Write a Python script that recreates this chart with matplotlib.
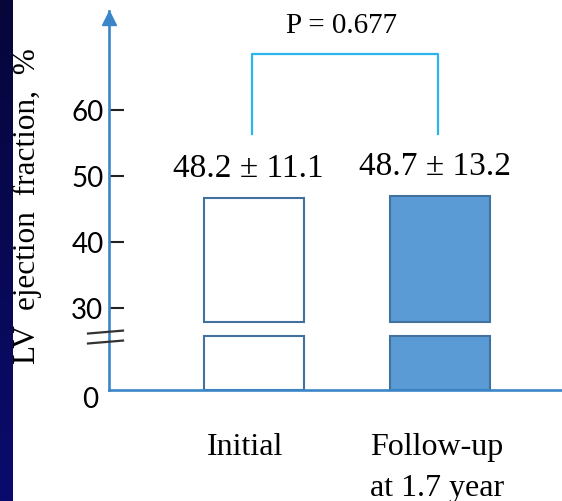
import numpy as np
import matplotlib
matplotlib.use("Agg")
import matplotlib.pyplot as plt
from matplotlib import transforms

# data
groups = ['Initial', 'Follow-up\nat 1.7 year']
bar_tops = [46.6, 46.9]
means = [48.2, 48.7]
sds = [11.1, 13.2]
p_value = 0.677
ytick_vals = [0, 30, 40, 50, 60]

# broken axis: below BRK the scale is squeezed, above it is linear
ZERO_V = 17.64
BRK = 27.9
SLOPE = (BRK - ZERO_V) / BRK
LOW_TOP = 21.9  # top of the stub under the break


def forward(v):
    v = np.asarray(v, dtype=float)
    return np.where(v < BRK, ZERO_V + v * SLOPE, v)


def inverse(y):
    y = np.asarray(y, dtype=float)
    return np.where(y < BRK, (y - ZERO_V) / SLOPE, y)


serif = 'Liberation Serif'
axis_blue = '#3a86c8'
bar_edge = '#41719c'
bar_fill = ['white', '#5b9bd5']
bracket_col = '#2cb5ea'

fig = plt.figure(figsize=(5.62, 5.02), dpi=100)

# dark slide border on the left
bax = fig.add_axes([0, 0, 13 / 562, 1])
grad = np.linspace(0, 1, 256).reshape(-1, 1)
cmap = matplotlib.colors.LinearSegmentedColormap.from_list('edge', ['#06063a', '#0b0b6e'])
bax.imshow(grad, aspect='auto', cmap=cmap, extent=[0, 1, 0, 1], origin='upper')
bax.axis('off')

ax = fig.add_axes([109 / 562, 111.3 / 502, 1 - 109 / 562, 378.7 / 502])
ax.set_yscale('function', functions=(forward, inverse))
ax.set_ylim(0, 74.9)
ax.set_xlim(-0.773, 1.65)

x = np.arange(len(groups))
width = 0.535
for i in x:
    # upper part above the break and the stub below it
    ax.bar(i, bar_tops[i] - BRK, bottom=BRK, width=width, color=bar_fill[i],
           edgecolor=bar_edge, linewidth=1.5, zorder=2)
    ax.bar(i, LOW_TOP, bottom=0, width=width, color=bar_fill[i],
           edgecolor=bar_edge, linewidth=1.5, zorder=2)
    ax.annotate(f"{means[i]} \u00b1 {sds[i]}", xy=(i, bar_tops[i]), xytext=(-4, 16),
                textcoords='offset points', ha='center', va='baseline',
                fontsize=24, family=serif)

# bracket with p value
ax.plot([-0.01, -0.01, 0.985, 0.985], [56.3, 68.4, 68.4, 56.3], color=bracket_col, lw=1.6,
        clip_on=False)
ax.text(0.47, 71.7, f"P = {p_value}", ha='center', va='baseline', fontsize=21, family=serif)

# category labels below the axis
lab_tr = transforms.blended_transform_factory(ax.transData, fig.transFigure)
ax.text(x[0] - 0.045, 0.138, groups[0], transform=lab_tr, ha='center', va='top',
        fontsize=23, family=serif)
ax.text(x[1] - 0.02, 0.138, groups[1], transform=lab_tr, ha='center', va='top',
        multialignment='left', linespacing=1.55, fontsize=23, family=serif)

# axes styling
for s in ['top', 'right']:
    ax.spines[s].set_visible(False)
for s in ['left', 'bottom']:
    ax.spines[s].set_color(axis_blue)
    ax.spines[s].set_linewidth(1.9)
ax.set_xticks([])
ax.set_yticks(ytick_vals)
ax.set_yticklabels([str(v) for v in ytick_vals], family='Lato', fontsize=20)
ax.tick_params(axis='y', direction='in', length=11, width=1.5, color='#222222', pad=4)
ticks = ax.yaxis.get_major_ticks()
ticks[0].tick1line.set_visible(False)
ticks[0].label1.set_transform(ticks[0].label1.get_transform() +
                              transforms.ScaledTranslation(-5 / 100, -7 / 100, fig.dpi_scale_trans))

# arrow head on the y axis
ax.plot(0, 1 - 7 / 378.7, marker='^', ms=9.5, color=axis_blue, transform=ax.transAxes,
        clip_on=False, zorder=5)

# axis break marks
brk_tr = transforms.blended_transform_factory(fig.transFigure, ax.transData)
for yb in [19.6, 23.7]:
    ax.plot([88 / 562, 123 / 562], [yb - 0.6, yb + 0.6], color='#333333', lw=1.6,
            transform=brk_tr, clip_on=False, zorder=6)

fig.text(27 / 562, 0.59, 'LV  ejection  fraction,  %', rotation=90, ha='center', va='center',
         fontsize=22.5, family=serif)

fig.savefig('out.png', dpi=100)
